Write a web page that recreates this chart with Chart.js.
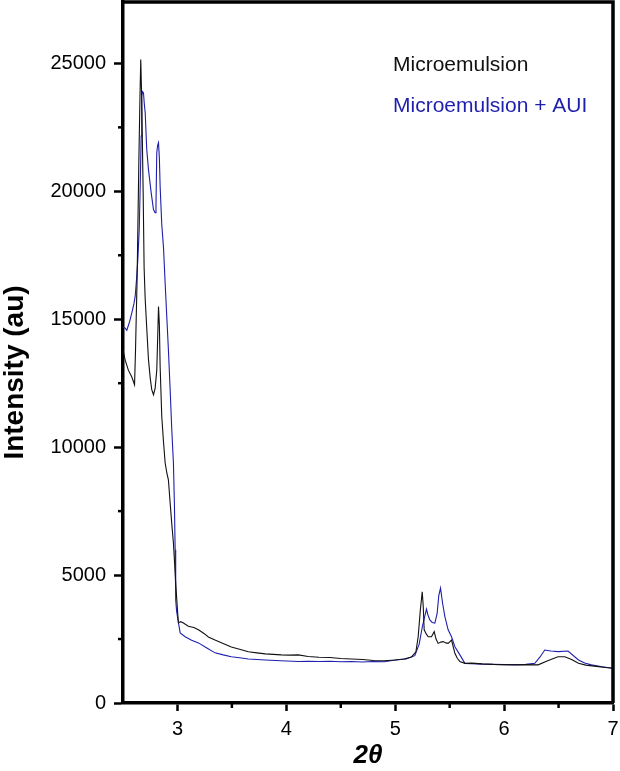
<!DOCTYPE html>
<html>
<head>
<meta charset="utf-8">
<script src="https://cdn.jsdelivr.net/npm/chart.js@4.4.1/dist/chart.umd.min.js"></script>
<style>
  html, body { margin: 0; padding: 0; background: #fff; }
  #wrap { width: 620px; height: 771px; position: relative; }
</style>
</head>
<body>
<div id="wrap"><canvas id="xrdChart"></canvas></div>
<script>
// 2-theta positions and intensities
const meX = [2.5, 2.52, 2.55, 2.58, 2.606, 2.615, 2.63, 2.645, 2.655, 2.663, 2.672, 2.685, 2.694, 2.704, 2.72, 2.734, 2.75, 2.764, 2.78, 2.795, 2.81, 2.82, 2.826, 2.834, 2.841, 2.856, 2.872, 2.887, 2.902, 2.917, 2.933, 2.948, 2.963, 2.975, 2.984, 3.0, 3.009, 3.03, 3.055, 3.1, 3.15, 3.193, 3.25, 3.284, 3.35, 3.42, 3.495, 3.57, 3.651, 3.73, 3.807, 3.88, 3.954, 4.03, 4.11, 4.2, 4.3, 4.4, 4.5, 4.6, 4.7, 4.8, 4.9, 5.0, 5.08, 5.15, 5.19, 5.211, 5.23, 5.248, 5.257, 5.266, 5.285, 5.303, 5.333, 5.358, 5.375, 5.394, 5.42, 5.44, 5.465, 5.486, 5.517, 5.548, 5.57, 5.594, 5.64, 5.7, 5.8, 5.9, 6.0, 6.1, 6.2, 6.312, 6.4, 6.495, 6.557, 6.62, 6.683, 6.75, 6.867, 6.93, 7.0];
const meY = [13800, 13400, 13000, 12750, 12440, 13800, 16700, 21000, 23500, 25150, 23600, 20000, 17000, 15770, 14500, 13420, 12700, 12250, 12050, 12300, 13000, 14500, 15500, 14800, 13160, 11200, 10200, 9390, 9000, 8720, 7820, 7000, 6260, 5400, 4690, 3640, 3130, 3180, 3130, 3000, 2950, 2860, 2700, 2580, 2450, 2330, 2190, 2100, 2000, 1960, 1920, 1900, 1880, 1870, 1880, 1820, 1790, 1780, 1740, 1720, 1700, 1660, 1650, 1680, 1720, 1800, 2000, 2600, 3600, 4350, 3800, 2860, 2700, 2590, 2590, 2790, 2500, 2330, 2380, 2400, 2350, 2330, 2460, 1940, 1750, 1620, 1550, 1560, 1530, 1510, 1500, 1490, 1500, 1490, 1650, 1810, 1810, 1700, 1550, 1480, 1420, 1390, 1360];

const auiX = [2.5, 2.52, 2.535, 2.56, 2.581, 2.6, 2.612, 2.625, 2.636, 2.649, 2.658, 2.667, 2.672, 2.68, 2.688, 2.696, 2.704, 2.718, 2.734, 2.759, 2.78, 2.795, 2.803, 2.81, 2.818, 2.826, 2.834, 2.841, 2.856, 2.872, 2.887, 2.902, 2.917, 2.933, 2.948, 2.963, 2.972, 2.979, 2.984, 2.992, 3.0, 3.025, 3.071, 3.13, 3.193, 3.27, 3.346, 3.42, 3.495, 3.57, 3.651, 3.73, 3.807, 3.95, 4.11, 4.2, 4.3, 4.4, 4.5, 4.6, 4.7, 4.8, 4.9, 5.0, 5.1, 5.18, 5.22, 5.25, 5.287, 5.3, 5.318, 5.34, 5.364, 5.385, 5.4, 5.416, 5.435, 5.456, 5.486, 5.517, 5.548, 5.594, 5.64, 5.7, 5.8, 5.9, 6.0, 6.1, 6.2, 6.282, 6.33, 6.373, 6.43, 6.495, 6.587, 6.683, 6.74, 6.801, 6.9, 7.0];
const auiY = [14700, 14650, 14570, 14900, 15250, 15600, 15900, 16600, 17330, 18500, 20200, 22160, 23720, 23900, 23850, 23400, 23070, 21640, 20850, 19940, 19290, 19160, 19500, 21500, 21800, 21900, 21300, 20200, 18700, 17800, 16420, 15110, 13810, 12250, 10680, 9390, 7820, 5990, 4030, 3600, 3380, 2740, 2590, 2450, 2350, 2150, 1960, 1880, 1810, 1770, 1720, 1700, 1680, 1650, 1620, 1630, 1620, 1630, 1610, 1620, 1600, 1620, 1610, 1680, 1720, 1850, 2300, 3000, 3670, 3450, 3250, 3150, 3120, 3500, 4200, 4490, 3900, 3380, 2860, 2590, 2200, 1880, 1550, 1540, 1520, 1510, 1500, 1500, 1510, 1550, 1800, 2070, 2030, 2010, 2030, 1680, 1560, 1490, 1420, 1360];

const seriesNames = ['Microemulsion', 'Microemulsion + AUI'];
const seriesColors = ['#111111', '#1f1fae'];

// tick values (major ones carry labels)
const xTicks = [2.5, 3, 3.5, 4, 4.5, 5, 5.5, 6, 6.5, 7];
const xLabeled = [3, 4, 5, 6, 7];
const yTicks = [0, 2500, 5000, 7500, 10000, 12500, 15000, 17500, 20000, 22500, 25000];
const yLabeled = [0, 5000, 10000, 15000, 20000, 25000];
const xMin = 2.5, xMax = 7;
const yMin = 0, yMax = 27400;

const yTitle = 'Intensity (au)';
const tickFont = { family: "'Liberation Sans', Arial, sans-serif", size: 20 };

const toPoints = (xs, ys) => xs.map((x, i) => ({ x: x, y: ys[i] }));

// frame on top/right, short minor ticks, y title, legend text
const framePlugin = {
    id: 'frame',
    afterDraw(chart) {
        const { ctx, chartArea: a, scales } = chart;
        ctx.save();
        ctx.strokeStyle = '#000';
        ctx.lineWidth = 3.5;
        ctx.beginPath();
        ctx.moveTo(a.left, a.top);
        ctx.lineTo(a.right, a.top);
        ctx.lineTo(a.right, a.bottom);
        ctx.stroke();

        ctx.lineWidth = 2.5;
        yTicks.filter(v => !yLabeled.includes(v)).forEach(v => {
            const py = scales.y.getPixelForValue(v);
            ctx.beginPath();
            ctx.moveTo(a.left - 5, py);
            ctx.lineTo(a.left, py);
            ctx.stroke();
        });
        xTicks.filter(v => !xLabeled.includes(v) && v !== xMin).forEach(v => {
            const px = scales.x.getPixelForValue(v);
            ctx.beginPath();
            ctx.moveTo(px, a.bottom);
            ctx.lineTo(px, a.bottom + 5);
            ctx.stroke();
        });

        // y title, a bit below the centre like in the original
        ctx.save();
        ctx.translate(15, (a.top + a.bottom) / 2 + 20);
        ctx.rotate(-Math.PI / 2);
        ctx.font = "bold 28px 'Liberation Sans', Arial, sans-serif";
        ctx.fillStyle = '#000';
        ctx.textAlign = 'center';
        ctx.textBaseline = 'middle';
        ctx.fillText(yTitle, 0, 0);
        ctx.restore();

        ctx.font = "21px 'Liberation Sans', Arial, sans-serif";
        ctx.textAlign = 'left';
        ctx.textBaseline = 'middle';
        seriesNames.forEach((name, i) => {
            ctx.fillStyle = seriesColors[i];
            ctx.fillText(name, a.left + 270, a.top + 63 + i * 41);
        });
        ctx.restore();
    }
};

const ctx = document.getElementById('xrdChart').getContext('2d');

window.myChart = new Chart(ctx, {
    type: 'line',
    data: {
        datasets: [
            {
                label: seriesNames[0],
                data: toPoints(meX, meY),
                borderColor: seriesColors[0],
                borderWidth: 1.1,
                pointRadius: 0,
                tension: 0,
                fill: false
            },
            {
                label: seriesNames[1],
                data: toPoints(auiX, auiY),
                borderColor: seriesColors[1],
                borderWidth: 1.1,
                pointRadius: 0,
                tension: 0,
                fill: false
            }
        ]
    },
    options: {
        responsive: true,
        maintainAspectRatio: false,
        animation: false,
        layout: { padding: { top: 2, right: 7, left: 0, bottom: 0 } },
        plugins: {
            legend: { display: false },
            tooltip: { enabled: false }
        },
        scales: {
            x: {
                type: 'linear',
                min: xMin,
                max: xMax,
                afterBuildTicks: scale => {
                    scale.ticks = xLabeled.map(v => ({ value: v }));
                },
                ticks: {
                    autoSkip: false,
                    maxRotation: 0,
                    color: '#000',
                    font: tickFont,
                    padding: 6,
                    callback: v => String(v)
                },
                grid: {
                    drawOnChartArea: false,
                    drawTicks: true,
                    tickLength: 8,
                    tickWidth: 2.5,
                    tickColor: '#000'
                },
                border: { display: true, color: '#000', width: 3.5 },
                title: {
                    display: true,
                    text: '2\u03B8',
                    color: '#000',
                    font: { family: "'Liberation Sans', Arial, sans-serif", size: 26, weight: 'bold', style: 'italic' },
                    padding: { top: 6, bottom: 0 }
                },
                afterFit: scale => {
                    scale.height = 68;
                    scale.paddingLeft = 0;
                    scale.paddingRight = 0;
                }
            },
            y: {
                type: 'linear',
                min: yMin,
                max: yMax,
                afterBuildTicks: scale => {
                    scale.ticks = yLabeled.map(v => ({ value: v }));
                },
                ticks: {
                    autoSkip: false,
                    color: '#000',
                    font: tickFont,
                    padding: 8,
                    callback: v => String(v)
                },
                grid: {
                    drawOnChartArea: false,
                    drawTicks: true,
                    tickLength: 9,
                    tickWidth: 2.5,
                    tickColor: '#000'
                },
                border: { display: true, color: '#000', width: 3.5 },
                afterFit: scale => {
                    scale.width = 123;
                    scale.paddingTop = 0;
                    scale.paddingBottom = 0;
                }
            }
        }
    },
    plugins: [framePlugin]
});
</script>
</body>
</html>
